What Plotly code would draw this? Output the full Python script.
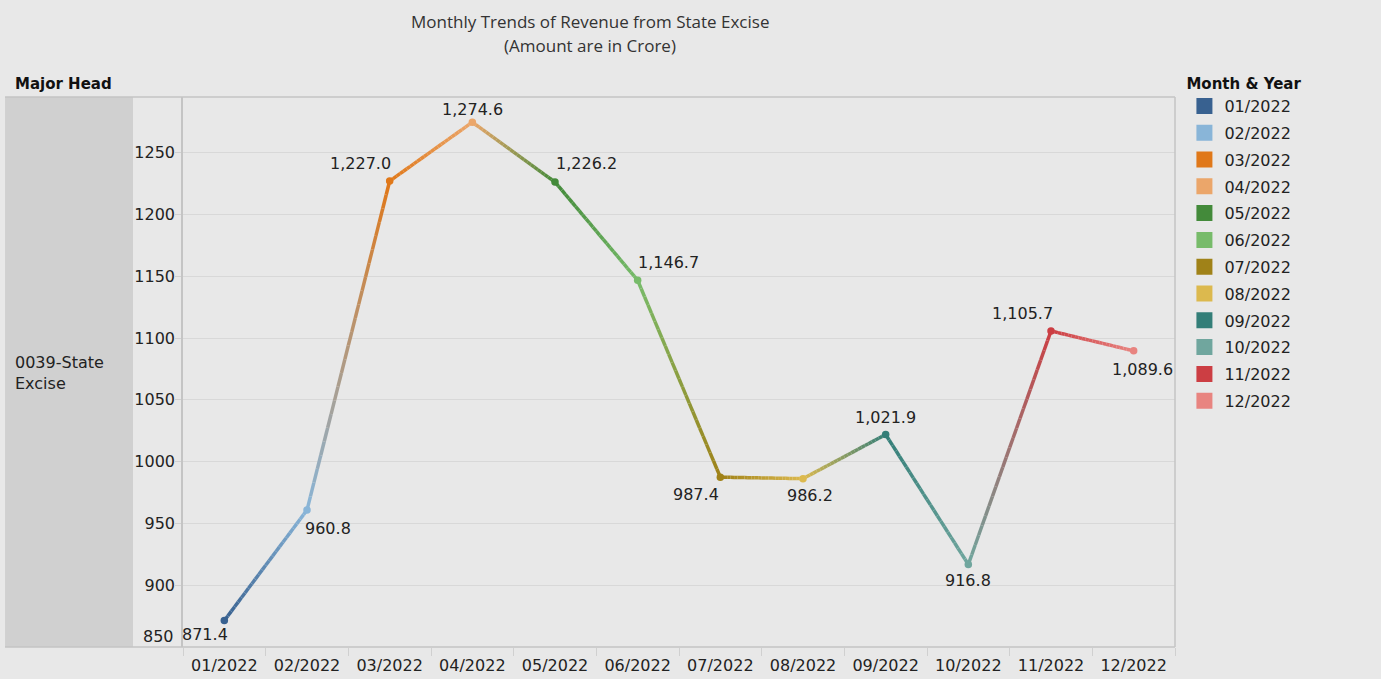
import plotly.graph_objects as go

months = ["01/2022", "02/2022", "03/2022", "04/2022", "05/2022", "06/2022",
          "07/2022", "08/2022", "09/2022", "10/2022", "11/2022", "12/2022"]
revenue = [871.4, 960.8, 1227.0, 1274.6, 1226.2, 1146.7,
           987.4, 986.2, 1021.9, 916.8, 1105.7, 1089.6]
colors = ["#386190", "#89b5d8", "#e07819", "#eba66a", "#438a3a", "#77bb6a",
          "#a08218", "#dcb94e", "#337e78", "#70a69e", "#cc3e43", "#e88480"]
y_ticks = [900, 950, 1000, 1050, 1100, 1150, 1200, 1250]
# label offsets (px) for each data label: (dx, dy) with dy positive upward
label_dx = [-19, 21, -29, 0, 31, 31, -24, 7, 0, 0, -29, 9]
label_dy = [-14, -18, 18, 13, 19, 18, -17, -17, 17, -16, 17, -19]

FONT = "DejaVu Sans"
BG = "#e8e8e8"


def hex2rgb(h):
    h = h.lstrip("#")
    return tuple(int(h[i:i + 2], 16) for i in (0, 2, 4))


def mix(c1, c2, t):
    a, b = hex2rgb(c1), hex2rgb(c2)
    r = [round(a[k] + (b[k] - a[k]) * t) for k in range(3)]
    return "rgb(%d,%d,%d)" % tuple(r)


fig = go.Figure()
xs = list(range(len(months)))
N = 24
for i in range(len(months) - 1):
    x0, x1 = xs[i], xs[i + 1]
    y0, y1 = revenue[i], revenue[i + 1]
    for k in range(N):
        t0, t1 = k / N, (k + 1) / N
        fig.add_trace(go.Scatter(
            x=[x0 + (x1 - x0) * t0, x0 + (x1 - x0) * t1],
            y=[y0 + (y1 - y0) * t0, y0 + (y1 - y0) * t1],
            mode="lines",
            line=dict(color=mix(colors[i], colors[i + 1], (t0 + t1) / 2), width=3.5),
            showlegend=False, hoverinfo="skip"))

fig.add_trace(go.Scatter(
    x=xs, y=revenue, mode="markers",
    marker=dict(color=colors, size=7.5),
    showlegend=False, hoverinfo="x+y"))

for i, m in enumerate(months):
    fig.add_trace(go.Scatter(
        x=[None], y=[None], mode="markers", name=m, legendgroup=m,
        marker=dict(symbol="square", size=16, color=colors[i]),
        showlegend=True))

for i, v in enumerate(revenue):
    fig.add_annotation(
        x=xs[i], y=v, text=f"{v:,.1f}", showarrow=False,
        xshift=label_dx[i], yshift=label_dy[i],
        font=dict(family=FONT, size=16, color="#222222"))

# 850 label (placed just above the bottom edge as in reference)
fig.add_annotation(xref="paper", x=0, y=850, text="850", showarrow=False,
                   xanchor="right", xshift=-7, yshift=11,
                   font=dict(family=FONT, size=16, color="#222222"))

# title (two centered lines)
fig.add_annotation(xref="paper", yref="paper", x=(590 - 183) / 992, y=1,
                   yshift=76, text="Monthly Trends of Revenue from State Excise",
                   showarrow=False, xanchor="center", yanchor="middle",
                   font=dict(family="Open Sans", size=17, color="#333333"))
fig.add_annotation(xref="paper", yref="paper", x=(590 - 183) / 992, y=1,
                   yshift=52, text="(Amount are in Crore)",
                   showarrow=False, xanchor="center", yanchor="middle",
                   font=dict(family="Open Sans", size=17, color="#333333"))

# row header panel
fig.add_shape(type="rect", xref="paper", yref="paper",
              x0=-0.1794, x1=-0.0504, y0=0, y1=1,
              fillcolor="#d0d0d0", line=dict(width=0), layer="below")
fig.add_shape(type="line", xref="paper", yref="paper",
              x0=-0.1794, x1=1, y0=1, y1=1, line=dict(color="#c4c4c4", width=1.5))
fig.add_shape(type="line", xref="paper", yref="paper",
              x0=-0.1794, x1=1, y0=0, y1=0, line=dict(color="#c4c4c4", width=1.5))
fig.add_shape(type="line", xref="paper", yref="paper",
              x0=1, x1=1, y0=0, y1=1, line=dict(color="#c4c4c4", width=1.5))

fig.add_annotation(xref="paper", yref="paper", x=-0.171, y=1.0, yshift=13,
                   text="<b>Major Head</b>", showarrow=False, xanchor="left",
                   yanchor="middle", font=dict(family=FONT, size=15, color="#111111"))
fig.add_annotation(xref="paper", yref="paper", x=-0.171, y=0.5, yshift=-1,
                   text="0039-State<br>Excise", showarrow=False, xanchor="left",
                   yanchor="middle", align="left",
                   font=dict(family=FONT, size=16, color="#222222"))

fig.update_layout(
    width=1381, height=679,
    paper_bgcolor=BG, plot_bgcolor=BG,
    margin=dict(l=183, r=206, t=97, b=32, autoexpand=False),
    font=dict(family=FONT, size=16, color="#222222"),
    showlegend=True,
    legend=dict(title=dict(text="<b>Month & Year</b>", font=dict(family=FONT, size=15, color="#111111")),
                x=1.0095, xanchor="left", y=1.05, yanchor="top",
                bgcolor="rgba(0,0,0,0)", font=dict(family=FONT, size=16, color="#222222"),
                tracegroupgap=3, itemsizing="trace", itemwidth=30, maxheight=650),
    xaxis=dict(range=[-0.5, 11.5], tickvals=xs, ticktext=months,
               showgrid=False, zeroline=False, showline=False, ticks="",
               ticklabelstandoff=7, automargin=False,
               tickfont=dict(family=FONT, size=16, color="#222222"),
               minor=dict(tickvals=[i - 0.5 for i in range(13)], ticks="outside",
                          ticklen=8, tickcolor="#d0d0d0", showgrid=False),
               fixedrange=True),
    yaxis=dict(range=[850, 1295], tickvals=y_ticks, ticktext=[str(t) for t in y_ticks],
               showgrid=True, gridcolor="#d8d8d8", gridwidth=1, zeroline=False,
               showline=True, linecolor="#c4c4c4", linewidth=1.5,
               ticks="outside", ticklen=6, tickcolor="#d0d0d0",
               ticklabelstandoff=-3, automargin=False,
               tickfont=dict(family=FONT, size=16, color="#222222"),
               fixedrange=True),
)

fig.write_html("out.html", post_script="document.body.style.margin='0';",
               config={"displayModeBar": False})
